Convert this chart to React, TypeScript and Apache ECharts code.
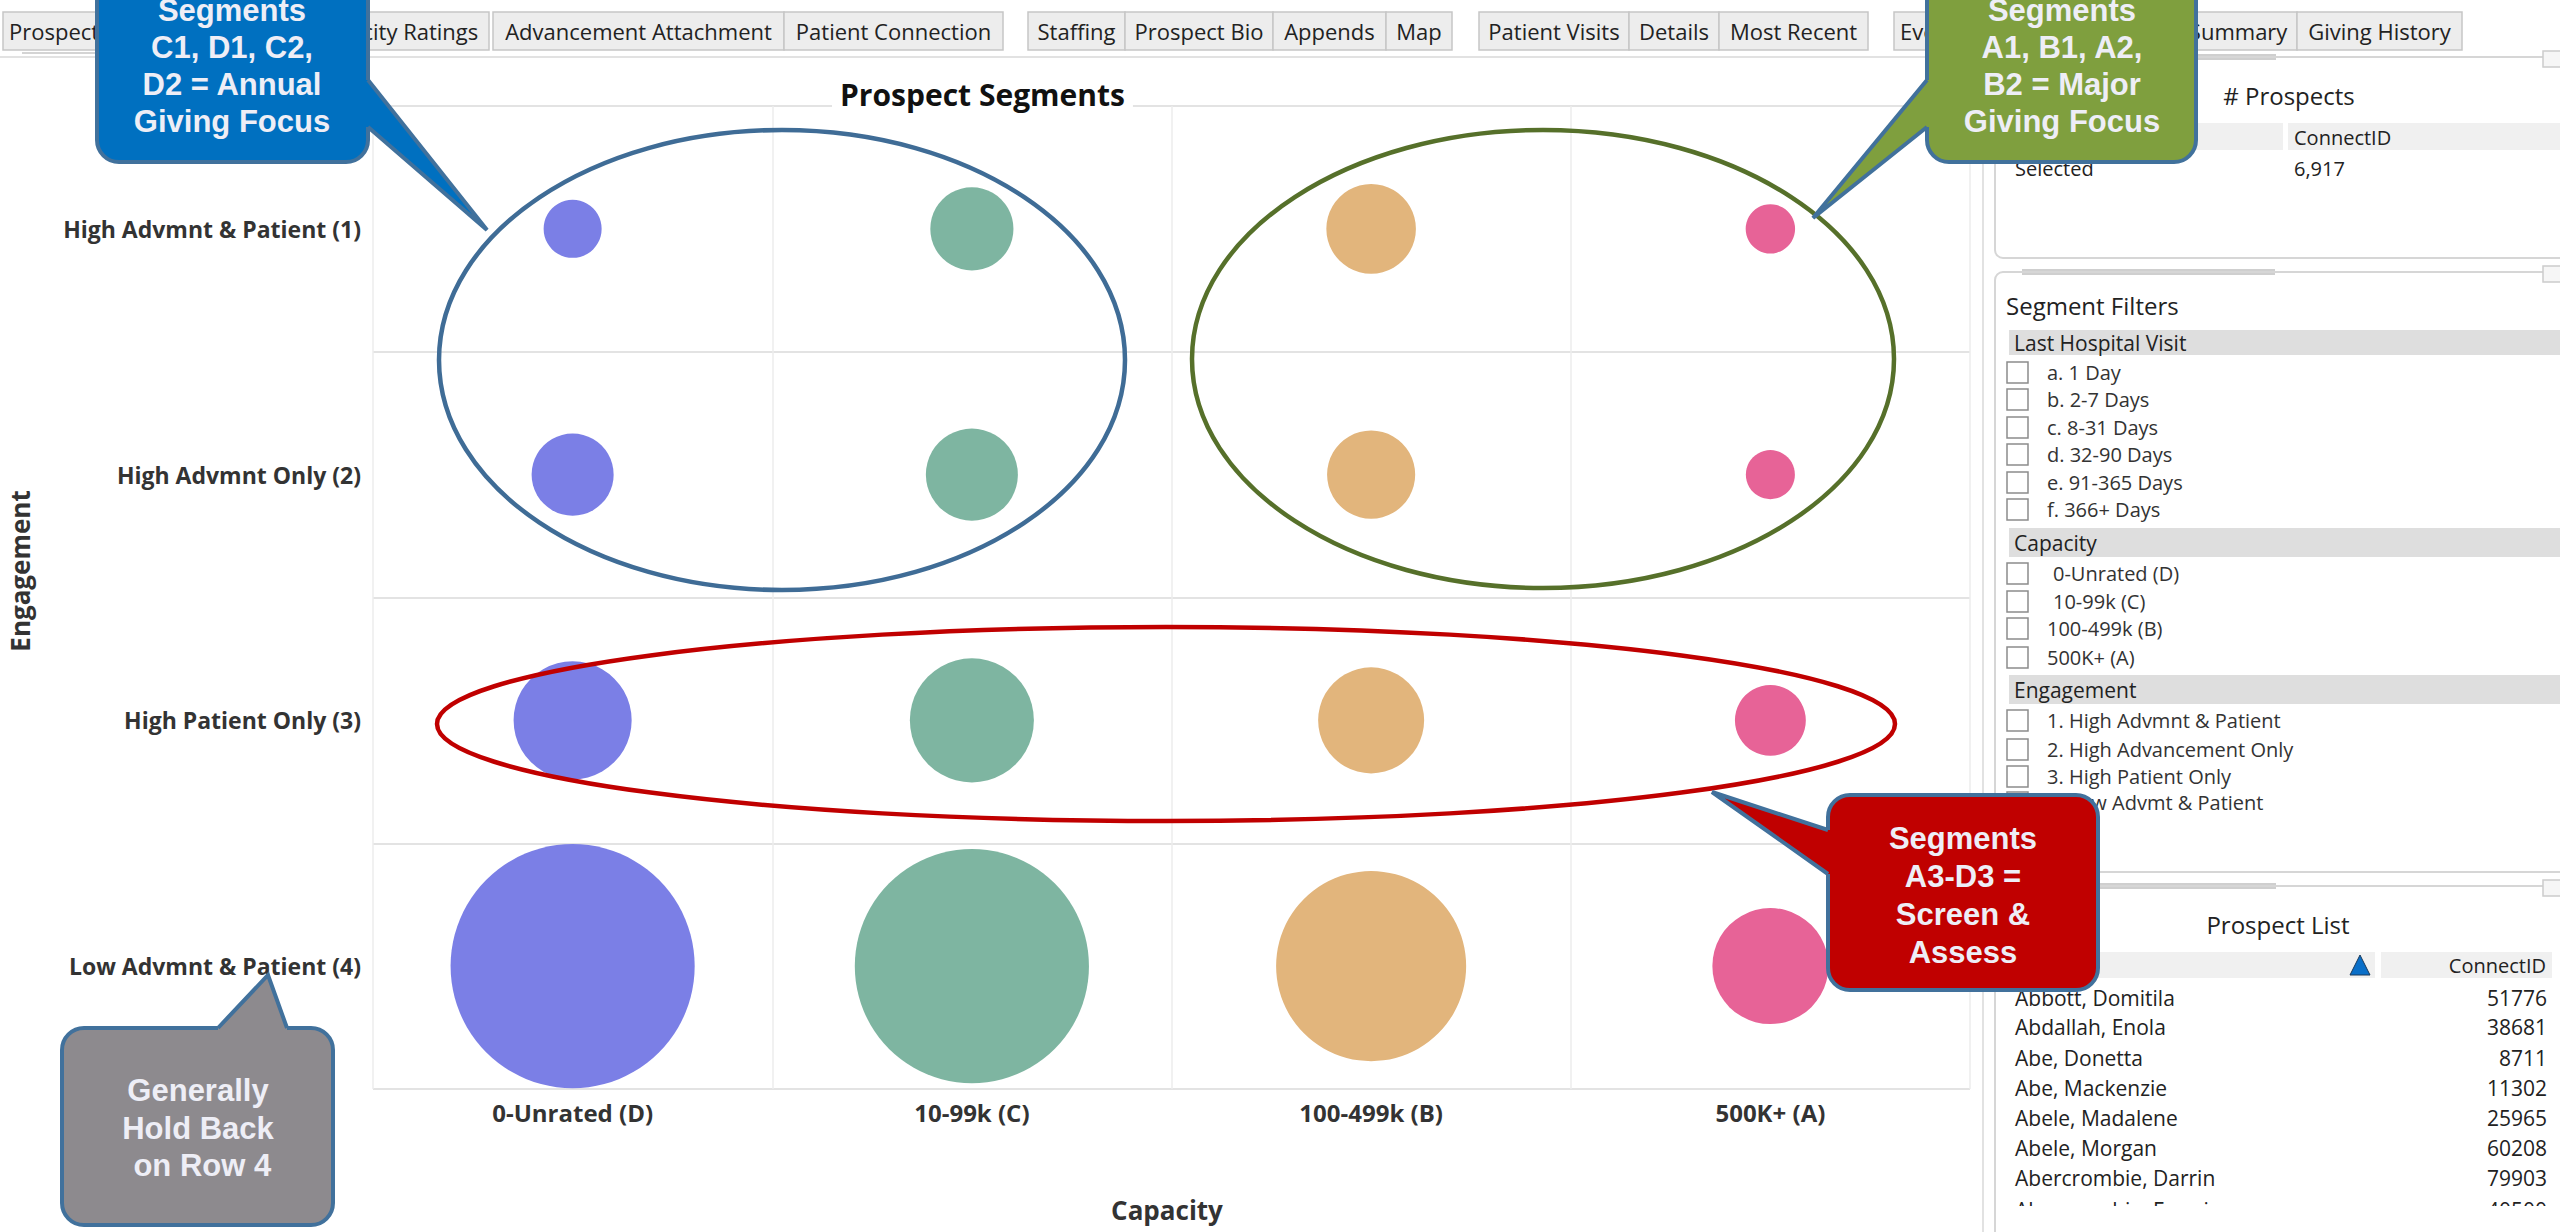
import React, { useEffect, useRef } from 'react';
import * as echarts from 'echarts';

// ---------- DATA ----------
const capacities = ['0-Unrated (D)', '10-99k (C)', '100-499k (B)', '500K+ (A)'];
const engagements = [
  'High Advmnt & Patient (1)',
  'High Advmnt Only (2)',
  'High Patient Only (3)',
  'Low Advmnt & Patient (4)',
];
// estimated # prospects per segment (rows = engagement 1..4)
const prospectsD = [91, 182, 377, 1612];
const prospectsC = [187, 229, 416, 1483];
const prospectsB = [217, 210, 304, 977];
const prospectsA = [66, 65, 136, 364];
const capacityColors = ['#7b7fe6', '#7eb5a1', '#e2b57c', '#e76397'];

const tabLabels = [
  'Prospects', 'Capacity Ratings', 'Advancement Attachment', 'Patient Connection',
  'Staffing', 'Prospect Bio', 'Appends', 'Map',
  'Patient Visits', 'Details', 'Most Recent',
  'Events', 'Giving Summary', 'Giving History',
];
const visitFilters = ['a. 1 Day', 'b. 2-7 Days', 'c. 8-31 Days', 'd. 32-90 Days', 'e. 91-365 Days', 'f. 366+ Days'];
const capacityFilters = [' 0-Unrated (D)', ' 10-99k (C)', '100-499k (B)', '500K+ (A)'];
const engagementFilters = ['1. High Advmnt & Patient', '2. High Advancement Only', '3. High Patient Only', '4. Low Advmt & Patient'];
const prospectNames = [
  'Abbott, Domitila', 'Abdallah, Enola', 'Abe, Donetta', 'Abe, Mackenzie',
  'Abele, Madalene', 'Abele, Morgan', 'Abercrombie, Darrin', 'Abercrombie, Emmie',
];
const prospectIds = ['51776', '38681', '8711', '11302', '25965', '60208', '79903', '40500'];
const selectedCount = '6,917';

// ---------- LAYOUT ----------
const tabSpans = [
  [3, 115], [300, 489], [493, 784], [784, 1003],
  [1028, 1125], [1125, 1273], [1273, 1386], [1386, 1452],
  [1479, 1629], [1629, 1719], [1719, 1868],
  [1894, 2110], [2110, 2297], [2297, 2462],
];
const leftAlignedTabs = [0, 11];
const visitY = [372, 399, 427, 454, 482, 509];
const capY = [573, 601, 628, 657];
const engY = [720, 749, 776, 802];
const rowY = [998, 1027, 1058, 1088, 1118, 1148, 1178, 1210];

const UI = '"Open Sans", "Noto Sans", sans-serif';
const CALL = '"Liberation Sans", Arial, sans-serif';
const bubbleScale = 6.08;

function txt(x: number, y: number, text: string, opts: any = {}) {
  const align = opts.align || 'left';
  const valign = opts.valign || 'middle';
  return {
    type: 'text',
    x, y,
    rotation: opts.rotation || 0,
    z: opts.z ?? 50,
    silent: true,
    style: {
      text,
      fill: opts.color || '#222',
      font: opts.font || `20px ${UI}`,
      align, textAlign: align,
      verticalAlign: valign, textVerticalAlign: valign,
      lineHeight: opts.lineHeight,
    },
  };
}

function callout(
  rect: [number, number, number, number],
  b1: [number, number], b2: [number, number], tip: [number, number],
  inner1: [number, number], inner2: [number, number],
  fill: string, lines: string[], cx: number, cy: number, lh: number,
) {
  const stroke = '#41719c';
  return [
    { type: 'rect', z: 100, silent: true, shape: { x: rect[0], y: rect[1], width: rect[2], height: rect[3], r: 22 }, style: { fill, stroke, lineWidth: 4 } },
    { type: 'polygon', z: 101, silent: true, shape: { points: [inner1, b1, tip, b2, inner2] }, style: { fill } },
    { type: 'polyline', z: 102, silent: true, shape: { points: [b1, tip, b2] }, style: { stroke, lineWidth: 4, fill: null, lineJoin: 'miter' } },
    txt(cx, cy, lines.join('\n'), { align: 'center', color: '#eeeef6', font: `bold 31px ${CALL}`, lineHeight: lh, z: 103 }),
  ];
}

function buildGraphics() {
  const g: any[] = [];
  // ---- tabs ----
  tabLabels.forEach((label, i) => {
    const [x0, x1] = tabSpans[i];
    g.push({ type: 'rect', z: 5, silent: true, shape: { x: x0, y: 12, width: x1 - x0, height: 38 }, style: { fill: '#ededed', stroke: '#c6c6c6', lineWidth: 1.5 } });
    if (leftAlignedTabs.includes(i)) g.push(txt(x0 + 6, 31, label, { font: `22px ${UI}`, z: 6 }));
    else g.push(txt((x0 + x1) / 2, 31, label, { align: 'center', font: `22px ${UI}`, z: 6 }));
  });
  g.push({ type: 'line', z: 5, silent: true, shape: { x1: 0, y1: 57, x2: 2560, y2: 57 }, style: { stroke: '#e2e2e2', lineWidth: 2 } });
  g.push({ type: 'line', z: 5, silent: true, shape: { x1: 22, y1: 53, x2: 133, y2: 53 }, style: { stroke: '#d4d4d4', lineWidth: 2 } });
  g.push({ type: 'line', z: 5, silent: true, shape: { x1: 1983, y1: 57, x2: 1983, y2: 1232 }, style: { stroke: '#e2e2e2', lineWidth: 2 } });

  // ---- axis titles ----
  g.push(txt(20, 571, 'Engagement', { align: 'center', rotation: Math.PI / 2, font: `bold 26px ${UI}`, color: '#333' }));
  g.push(txt(1167, 1210, 'Capacity', { align: 'center', font: `bold 26px ${UI}`, color: '#333' }));

  // ---- right panels ----
  const panel = (y: number, h: number, hx0: number, hx1: number) => {
    g.push({ type: 'rect', z: 5, silent: true, shape: { x: 1995, y, width: 600, height: h, r: 8 }, style: { fill: '#fff', stroke: '#d6d6d6', lineWidth: 2 } });
    g.push({ type: 'line', z: 6, silent: true, shape: { x1: hx0, y1: y - 2, x2: hx1, y2: y - 2 }, style: { stroke: '#cfcfcf', lineWidth: 2 } });
    g.push({ type: 'line', z: 6, silent: true, shape: { x1: hx0, y1: y + 2, x2: hx1, y2: y + 2 }, style: { stroke: '#cfcfcf', lineWidth: 2 } });
    g.push({ type: 'rect', z: 6, silent: true, shape: { x: 2543, y: y - 6, width: 18, height: 16 }, style: { fill: '#f6f6f6', stroke: '#cccccc', lineWidth: 1.5 } });
  };
  panel(57, 201, 2194, 2276);
  panel(272, 600, 2022, 2275);
  panel(886, 420, 2098, 2276);

  // # Prospects
  g.push(txt(2289, 95, '# Prospects', { align: 'center', font: `24px ${UI}` }));
  g.push({ type: 'rect', z: 6, silent: true, shape: { x: 2010, y: 123, width: 273, height: 27 }, style: { fill: '#f0f0f0' } });
  g.push({ type: 'rect', z: 6, silent: true, shape: { x: 2288, y: 123, width: 280, height: 27 }, style: { fill: '#f0f0f0' } });
  g.push(txt(2294, 137, 'ConnectID', { font: `20px ${UI}` }));
  g.push(txt(2015, 168, 'Selected', { font: `20px ${UI}` }));
  g.push(txt(2294, 168, selectedCount, { font: `20px ${UI}` }));

  // Segment Filters
  g.push(txt(2006, 305, 'Segment Filters', { font: `24px ${UI}` }));
  const header = (y0: number, y1: number, label: string) => {
    g.push({ type: 'rect', z: 6, silent: true, shape: { x: 2009, y: y0, width: 560, height: y1 - y0 }, style: { fill: '#dedede' } });
    g.push(txt(2014, (y0 + y1) / 2, label, { font: `21px ${UI}` }));
  };
  const checkItem = (y: number, label: string, tx: number) => {
    g.push({ type: 'rect', z: 6, silent: true, shape: { x: 2007, y: y - 10, width: 21, height: 21 }, style: { fill: '#fff', stroke: '#8c8c8c', lineWidth: 1.5 } });
    g.push(txt(tx, y, label, { font: `20px ${UI}`, color: '#333' }));
  };
  header(330, 355, 'Last Hospital Visit');
  visitFilters.forEach((l, i) => checkItem(visitY[i], l, 2047));
  header(528, 557, 'Capacity');
  capacityFilters.forEach((l, i) => checkItem(capY[i], l.trim(), l.startsWith(' ') ? 2053 : 2047));
  header(675, 704, 'Engagement');
  engagementFilters.forEach((l, i) => checkItem(engY[i], l, 2047));

  // Prospect List
  g.push(txt(2278, 924, 'Prospect List', { align: 'center', font: `24px ${UI}` }));
  prospectNames.forEach((n, i) => {
    g.push(txt(2015, rowY[i], n, { font: `21px ${UI}` }));
    g.push(txt(2547, rowY[i], prospectIds[i], { align: 'right', font: `21px ${UI}` }));
  });
  // header sits above first row (slightly cutting it)
  g.push({ type: 'rect', z: 60, silent: true, shape: { x: 2010, y: 952, width: 365, height: 26 }, style: { fill: '#f0f0f0' } });
  g.push({ type: 'rect', z: 60, silent: true, shape: { x: 2381, y: 952, width: 171, height: 26 }, style: { fill: '#f0f0f0' } });
  g.push({ type: 'polygon', z: 61, silent: true, shape: { points: [[2350, 975], [2370, 975], [2360, 955]] }, style: { fill: '#0a6fc8', stroke: '#1a3a5a', lineWidth: 1 } });
  g.push(txt(2546, 965, 'ConnectID', { align: 'right', font: `20px ${UI}`, z: 61 }));
  // clip bottom of list
  g.push({ type: 'rect', z: 60, silent: true, shape: { x: 2000, y: 1206, width: 560, height: 26 }, style: { fill: '#fff' } });

  // ---- ellipses ----
  g.push({ type: 'ellipse', z: 90, silent: true, shape: { cx: 782, cy: 360, rx: 343, ry: 230 }, style: { fill: null, stroke: '#3f6c96', lineWidth: 4.5 } });
  g.push({ type: 'ellipse', z: 90, silent: true, shape: { cx: 1543, cy: 359, rx: 351, ry: 229 }, style: { fill: null, stroke: '#56702a', lineWidth: 4.5 } });
  g.push({ type: 'ellipse', z: 90, silent: true, shape: { cx: 1166, cy: 724, rx: 729, ry: 97 }, style: { fill: null, stroke: '#c00000', lineWidth: 4.5 } });

  // ---- callouts ----
  g.push(...callout([97, -40, 271, 202], [368, 80], [368, 127], [487, 230], [362, 80], [362, 127],
    '#0070c0', ['Segments', 'C1, D1, C2,', 'D2 = Annual', 'Giving Focus'], 232, 66, 37));
  g.push(...callout([1927, -40, 269, 202], [1927, 80], [1927, 127], [1813, 218], [1933, 80], [1933, 127],
    '#7f9f3e', ['Segments', 'A1, B1, A2,', 'B2 = Major', 'Giving Focus'], 2062, 66, 37));
  g.push(...callout([1828, 795, 270, 195], [1828, 830], [1828, 874], [1712, 792], [1834, 830], [1834, 874],
    '#c00000', ['Segments', 'A3-D3 =', 'Screen &', 'Assess'], 1963, 895, 38));
  g.push(...callout([62, 1028, 271, 197], [218, 1028], [287, 1028], [268, 975], [218, 1034], [287, 1034],
    '#8d8a8e', ['Generally', 'Hold Back', ' on Row 4'], 198, 1128, 37.5));
  return g;
}

export default function App() {
  const ref = useRef<HTMLDivElement>(null);
  useEffect(() => {
    if (!ref.current) return;
    const chart = echarts.init(ref.current, undefined, { renderer: 'svg' });
    const seriesValues = [prospectsD, prospectsC, prospectsB, prospectsA];
    const labelStyle = { fontFamily: UI, fontWeight: 'bold', color: '#333' };
    chart.setOption({
      animation: false,
      backgroundColor: '#ffffff',
      title: {
        text: 'Prospect Segments',
        left: 832,
        top: 77,
        padding: [2, 8],
        backgroundColor: '#ffffff',
        textStyle: { fontFamily: UI, fontWeight: 'bold', fontSize: 30, color: '#111' },
      },
      grid: { left: 373, top: 106, width: 1597, height: 983 },
      xAxis: {
        type: 'category',
        data: capacities,
        boundaryGap: true,
        axisLine: { show: false },
        axisTick: { show: false },
        axisLabel: { ...labelStyle, fontSize: 24, margin: 11 },
        splitLine: { show: true, lineStyle: { color: '#ececec', width: 1.5 } },
      },
      yAxis: {
        type: 'category',
        data: engagements,
        inverse: true,
        boundaryGap: true,
        axisLine: { show: false },
        axisTick: { show: false },
        axisLabel: { ...labelStyle, fontSize: 23, margin: 12 },
        splitLine: { show: true, lineStyle: { color: '#e3e3e3', width: 2 } },
      },
      series: capacities.map((cap, i) => ({
        type: 'scatter',
        name: cap,
        data: seriesValues[i].map((n, j) => [cap, engagements[j], n]),
        symbolSize: (v: any) => bubbleScale * Math.sqrt(v[2]),
        itemStyle: { color: capacityColors[i], opacity: 1 },
        emphasis: { disabled: true },
      })),
      graphic: buildGraphics(),
    });
    return () => chart.dispose();
  }, []);
  return <div ref={ref} style={{ position: 'fixed', left: 0, top: 0, width: 2560, height: 1232 }} />;
}
